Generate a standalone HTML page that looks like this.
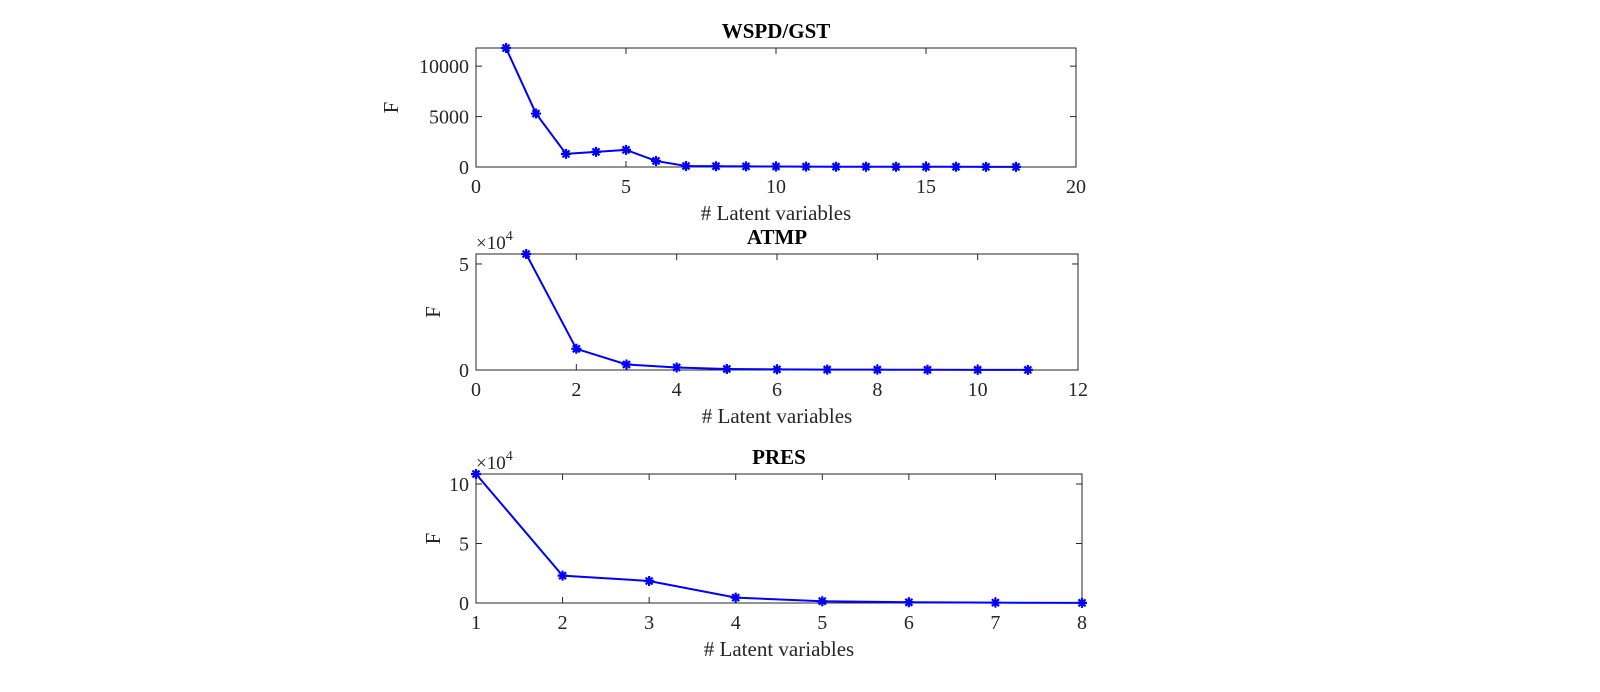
<!DOCTYPE html>
<html><head><meta charset="utf-8"><style>
html,body{margin:0;padding:0;background:#fff;}
svg{display:block;font-family:"Liberation Serif","DejaVu Serif",serif;}
</style></head><body>
<svg id="fig" width="1600" height="692" viewBox="0 0 1600 692"></svg>
<script>
const x1 = [1,2,3,4,5,6,7,8,9,10,11,12,13,14,15,16,17,18];
const y1 = [11800,5300,1300,1500,1700,600,100,80,60,50,40,30,30,20,20,20,10,10];
const xt1 = [0,5,10,15,20];
const yt1 = [0,5000,10000];
const yl1 = ["0","5000","10000"];

const x2 = [1,2,3,4,5,6,7,8,9,10,11];
const y2 = [54700,10000,2600,1200,500,300,200,150,100,80,60];
const xt2 = [0,2,4,6,8,10,12];
const yt2 = [0,50000];
const yl2 = ["0","5"];

const x3 = [1,2,3,4,5,6,7,8];
const y3 = [108400,23000,18500,4500,1500,600,300,100];
const xt3 = [1,2,3,4,5,6,7,8];
const yt3 = [0,50000,100000];
const yl3 = ["0","5","10"];

const NS="http://www.w3.org/2000/svg";
const svg=document.getElementById('fig');
function mk(tag,attrs,parent){const e=document.createElementNS(NS,tag);for(const k in attrs)e.setAttribute(k,attrs[k]);(parent||svg).appendChild(e);return e;}

function panel(name,title,L,R,T,B,xmin,xmax,ymax,xs,ys,xt,yt,yl,exp){
  const g=mk('g',{});
  
  
  const sx=v=>L+(v-xmin)/(xmax-xmin)*(R-L);
  const sy=v=>B-v/ymax*(B-T);
  const box=mk('rect',{x:L,y:T,width:R-L,height:B-T,fill:'#fff',stroke:'#262626','stroke-width':1},g);
  
  
  xt.forEach(v=>{
    const x=sx(v);
    mk('line',{x1:x,y1:B,x2:x,y2:B-6,stroke:'#262626'},g);
    mk('line',{x1:x,y1:T,x2:x,y2:T+6,stroke:'#262626'},g);
    const t=mk('text',{x:x,y:B+26,'text-anchor':'middle','font-size':20,fill:'#262626'},g);
    t.textContent=v;
    
    
  });
  yt.forEach((v,i)=>{
    const y=sy(v);
    mk('line',{x1:L,y1:y,x2:L+6,y2:y,stroke:'#262626'},g);
    mk('line',{x1:R,y1:y,x2:R-6,y2:y,stroke:'#262626'},g);
    const t=mk('text',{x:L-7,y:y+7,'text-anchor':'end','font-size':20,fill:'#262626'},g);
    t.textContent=yl[i];
    
    
  });
  if(exp){
    const t=mk('text',{x:L,y:T-5,'font-size':19,fill:'#262626'},g);
    t.innerHTML='×10<tspan dy="-9" font-size="14">4</tspan>';
    
    
  }
  const pts=xs.map((v,i)=>sx(v)+','+sy(ys[i])).join(' ');
  const line=mk('polyline',{points:pts,fill:'none',stroke:'#0000ff','stroke-width':2},g);
  
  
  xs.forEach((v,i)=>{
    const cx=sx(v), cy=sy(ys[i]), r=5;
    const d=`M${cx-r},${cy}L${cx+r},${cy}M${cx},${cy-r}L${cx},${cy+r}M${cx-3.5},${cy-3.5}L${cx+3.5},${cy+3.5}M${cx-3.5},${cy+3.5}L${cx+3.5},${cy-3.5}`;
    const m=mk('path',{d:d,stroke:'#0000ff','stroke-width':2.2,fill:'none'},g);
    
    
  });
  const tt=mk('text',{x:(L+R)/2,y:T-10,'text-anchor':'middle','font-size':21,'font-weight':'bold',fill:'#000'},g);
  tt.textContent=title;
  
  
  const xl=mk('text',{x:(L+R)/2,y:B+53,'text-anchor':'middle','font-size':21,fill:'#262626'},g);
  xl.textContent='# Latent variables';
  
  
  const yx=L-(exp?36:78), yy=(T+B)/2;
  const ylab=mk('text',{x:yx,y:yy,'text-anchor':'middle','font-size':21,fill:'#262626',transform:`rotate(-90 ${yx} ${yy})`},g);
  ylab.textContent='F';
  
  
}
panel('wspd-gst','WSPD/GST',476,1076,48,167,0,20,11800,x1,y1,xt1,yt1,yl1,false);
panel('atmp','ATMP',476,1078,254,370,0,12,54700,x2,y2,xt2,yt2,yl2,true);
panel('pres','PRES',476,1082,474,603,1,8,108400,x3,y3,xt3,yt3,yl3,true);
</script>
</body></html>
